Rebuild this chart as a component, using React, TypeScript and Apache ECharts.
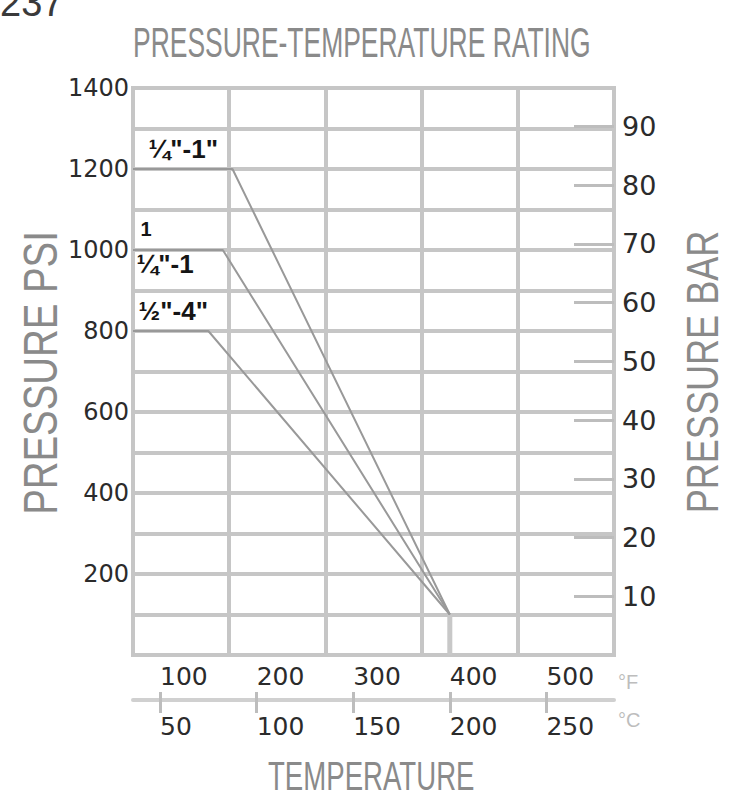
import { useEffect, useRef } from 'react';
import * as echarts from 'echarts';

// ---- data ----
const PSI_PER_BAR = 14.5038;
const psiMax = 1400;
const psiGridStep = 100;
const psiLabelValues = [200, 400, 600, 800, 1000, 1200, 1400];
const barLabelValues = [10, 20, 30, 40, 50, 60, 70, 80, 90];
const tempFMin = 72;
const tempFMax = 570;
const fLabelValues = [100, 200, 300, 400, 500];
const cLabelValues = [50, 100, 150, 200, 250];
const tempCMin = 36;
const tempCMax = 285;
const gridColumns = 5;

const sizeLabels = ['¼"-1"', '{a|1}\n{b|¼"-1}', '½"-4"'];
const topF = [72, 175, 400];
const topPsi = [1200, 1200, 100];
const midF = [72, 165, 400];
const midPsi = [1000, 1000, 100];
const lowF = [72, 150, 400];
const lowPsi = [800, 800, 100];
const dropF = [400, 400];
const dropPsi = [100, 0];

const GRID_COLOR = '#c6c6c6';
const LINE_COLOR = '#999999';
const NUM_FONT = '"DejaVu Sans"';

function buildData(f: number[], p: number[], label: any) {
  return f.map((x, i) => (i === 0 ? { value: [x, p[i]], label } : [x, p[i]]));
}

export default function App() {
  const ref = useRef<HTMLDivElement>(null);
  useEffect(() => {
    if (!ref.current) return;
    const chart = echarts.init(ref.current, null, { renderer: 'svg' });
    const labelBase = {
      show: true,
      position: 'right',
      color: '#151515',
      fontSize: 26,
      fontWeight: 'bold',
      fontFamily: '"Liberation Sans"',
    };
    const curve = (name: string, data: any[]) => ({
      name,
      type: 'line',
      xAxisIndex: 0,
      yAxisIndex: 0,
      data,
      symbol: 'circle',
      symbolSize: 1,
      itemStyle: { color: 'rgba(0,0,0,0)' },
      lineStyle: { color: LINE_COLOR, width: 2 },
      silent: true,
      z: 4,
    });
    const option: any = {
      animation: false,
      backgroundColor: '#ffffff',
      grid: [
        {
          left: 133,
          right: 115,
          top: 88,
          bottom: 141,
          show: true,
          borderColor: GRID_COLOR,
          borderWidth: 4,
          outerBoundsMode: 'none',
        },
        {
          left: 133,
          right: 115,
          top: 699,
          height: 1,
          show: false,
          outerBoundsMode: 'none',
        },
      ],
      xAxis: [
        {
          // data axis (°F) for the curves
          type: 'value',
          gridIndex: 0,
          min: tempFMin,
          max: tempFMax,
          show: false,
        },
        {
          // vertical grid lines
          type: 'value',
          gridIndex: 0,
          min: 0,
          max: gridColumns,
          interval: 1,
          position: 'bottom',
          axisLine: { show: false },
          axisTick: { show: false },
          axisLabel: { show: false },
          splitLine: { show: true, lineStyle: { color: GRID_COLOR, width: 4 } },
        },
        {
          // °F labels above the temperature scale line
          type: 'value',
          gridIndex: 1,
          min: tempFMin,
          max: tempFMax,
          position: 'bottom',
          axisLine: { show: false },
          axisTick: {
            show: true,
            inside: true,
            length: 8,
            customValues: fLabelValues,
            lineStyle: { color: '#bdbdbd', width: 3 },
          },
          axisLabel: {
            inside: true,
            margin: 11,
            align: 'left',
            customValues: fLabelValues,
            formatter: (v: number) => String(v),
            color: '#2b2b2b',
            fontSize: 25,
            fontFamily: NUM_FONT,
          },
          splitLine: { show: false },
        },
        {
          // °C labels below the temperature scale line
          type: 'value',
          gridIndex: 1,
          min: tempCMin,
          max: tempCMax,
          position: 'bottom',
          axisLine: { show: true, lineStyle: { color: '#d0d0d0', width: 4 } },
          axisTick: {
            show: true,
            length: 13,
            customValues: cLabelValues,
            lineStyle: { color: '#bdbdbd', width: 3 },
          },
          axisLabel: {
            margin: 14,
            align: 'left',
            customValues: cLabelValues,
            formatter: (v: number) => String(v),
            color: '#2b2b2b',
            fontSize: 25,
            fontFamily: NUM_FONT,
          },
          splitLine: { show: false },
        },
      ],
      yAxis: [
        {
          type: 'value',
          gridIndex: 0,
          min: 0,
          max: psiMax,
          interval: psiGridStep,
          position: 'left',
          axisLine: { show: false },
          axisTick: { show: false },
          axisLabel: {
            customValues: psiLabelValues,
            formatter: (v: number) => String(v),
            margin: 4,
            color: '#2b2b2b',
            fontSize: 24,
            fontFamily: NUM_FONT,
          },
          splitLine: { show: true, lineStyle: { color: GRID_COLOR, width: 4 } },
        },
        {
          type: 'value',
          gridIndex: 0,
          min: 0,
          max: psiMax / PSI_PER_BAR,
          position: 'right',
          axisLine: { show: false },
          axisTick: {
            show: true,
            inside: true,
            length: 40,
            customValues: barLabelValues,
            lineStyle: { color: '#bdbdbd', width: 3 },
          },
          axisLabel: {
            customValues: barLabelValues,
            formatter: (v: number) => String(v),
            margin: 8,
            color: '#2b2b2b',
            fontSize: 27,
            fontFamily: NUM_FONT,
          },
          splitLine: { show: false },
        },
        {
          type: 'value',
          gridIndex: 1,
          min: 0,
          max: 1,
          show: false,
        },
      ],
      series: [
        curve(
          'top',
          buildData(topF, topPsi, {
            ...labelBase,
            formatter: sizeLabels[0],
            offset: [10, -20],
          })
        ),
        curve(
          'mid',
          buildData(midF, midPsi, {
            ...labelBase,
            formatter: sizeLabels[1],
            offset: [-2, -4],
            rich: {
              a: { fontSize: 20, fontWeight: 'bold', lineHeight: 36, color: '#151515', fontFamily: '"Liberation Sans"', padding: [0, 0, 0, 4] },
              b: { fontSize: 26, fontWeight: 'bold', lineHeight: 34, color: '#151515', fontFamily: '"Liberation Sans"' },
            },
          })
        ),
        curve(
          'low',
          buildData(lowF, lowPsi, {
            ...labelBase,
            formatter: sizeLabels[2],
            offset: [0, -20],
          })
        ),
        {
          name: 'drop',
          type: 'line',
          xAxisIndex: 0,
          yAxisIndex: 0,
          data: dropF.map((x, i) => [x, dropPsi[i]]),
          symbol: 'none',
          lineStyle: { color: '#c8c8c8', width: 5 },
          silent: true,
          z: 3,
        },
      ],
      graphic: [
        {
          type: 'text',
          x: 0,
          y: 22,
          style: { text: '237', fill: '#3a3a3a', font: '38px "Liberation Sans"', align: 'left', verticalAlign: 'bottom' },
        },
        {
          type: 'text',
          x: 133,
          y: 42,
          scaleX: 0.63,
          style: {
            text: 'PRESSURE-TEMPERATURE RATING',
            fill: '#8a8a8a',
            font: '42px "Liberation Sans"',
            align: 'left',
            verticalAlign: 'middle',
          },
        },
        {
          type: 'text',
          x: 40,
          y: 373,
          rotation: Math.PI / 2,
          scaleX: 0.8,
          style: {
            text: 'PRESSURE PSI',
            fill: '#8a8a8a',
            font: '48px "Liberation Sans"',
            align: 'center',
            verticalAlign: 'middle',
          },
        },
        {
          type: 'text',
          x: 703,
          y: 372,
          rotation: Math.PI / 2,
          scaleX: 0.82,
          style: {
            text: 'PRESSURE BAR',
            fill: '#8a8a8a',
            font: '44px "Liberation Sans"',
            align: 'center',
            verticalAlign: 'middle',
          },
        },
        {
          type: 'text',
          x: 268,
          y: 776,
          scaleX: 0.69,
          style: {
            text: 'TEMPERATURE',
            fill: '#8a8a8a',
            font: '40px "Liberation Sans"',
            align: 'left',
            verticalAlign: 'middle',
          },
        },
        {
          type: 'text',
          x: 618,
          y: 682,
          style: { text: '°F', fill: '#bdbdbd', font: '20px "Liberation Sans"', align: 'left', verticalAlign: 'middle' },
        },
        {
          type: 'text',
          x: 618,
          y: 720,
          style: { text: '°C', fill: '#bdbdbd', font: '20px "Liberation Sans"', align: 'left', verticalAlign: 'middle' },
        },
      ],
    };
    chart.setOption(option);
    return () => chart.dispose();
  }, []);
  return (
    <div
      ref={ref}
      style={{ position: 'fixed', left: 0, top: 0, width: 729, height: 796, background: '#fff' }}
    />
  );
}
